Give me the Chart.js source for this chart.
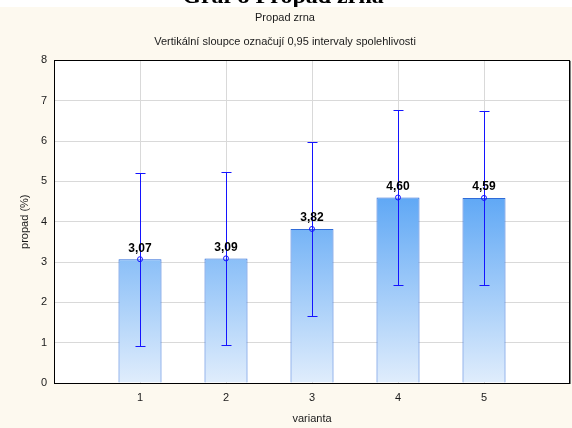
<!DOCTYPE html>
<html>
<head>
<meta charset="utf-8">
<script src="https://cdn.jsdelivr.net/npm/chart.js@4/dist/chart.umd.min.js"></script>
<style>
  html, body { margin: 0; padding: 0; background: #ffffff; }
  #wrap { width: 572px; height: 428px; position: relative; }
</style>
</head>
<body>
<div id="wrap"><canvas id="c" width="572" height="428"></canvas></div>
<script>
// ---- data ----
const categories = ['1', '2', '3', '4', '5'];
const means = [3.07, 3.09, 3.82, 4.60, 4.59];
const lowerCI = [0.92, 0.94, 1.66, 2.44, 2.43];
const upperCI = [5.22, 5.24, 5.98, 6.76, 6.75];
const yTicks = [0, 1, 2, 3, 4, 5, 6, 7, 8];
const pageTitle = 'Graf 8 Propad zrna';
const chartTitle = 'Propad zrna';
const chartSubtitle = 'Vertikální sloupce označují 0,95 intervaly spolehlivosti';
const xTitle = 'varianta';
const yTitle = 'propad (%)';

// category axis padded with empty slots on both sides
const labels = [''].concat(categories, ['']);
const padded = arr => [null].concat(arr, [null]);

const FONT = "'Liberation Sans', Arial, sans-serif";
const CREAM = '#fdf9ef';

const bgPlugin = {
  id: 'bg',
  beforeDraw(chart) {
    const ctx = chart.ctx;
    ctx.save();
    ctx.fillStyle = '#ffffff';
    ctx.fillRect(0, 0, chart.width, chart.height);
    ctx.fillStyle = CREAM;
    ctx.fillRect(0, 7, chart.width, chart.height - 7);
    const a = chart.chartArea;
    ctx.fillStyle = '#ffffff';
    ctx.fillRect(a.left, a.top, a.right - a.left, a.bottom - a.top);
    // cut-off page title
    ctx.fillStyle = '#000000';
    ctx.font = "bold 24px 'Liberation Serif', 'Times New Roman', serif";
    ctx.textAlign = 'center';
    ctx.textBaseline = 'alphabetic';
    ctx.save();
    ctx.beginPath();
    ctx.rect(0, 0, chart.width, 7);
    ctx.clip();
    ctx.fillText(pageTitle, 283, 3);
    ctx.restore();
    ctx.restore();
  }
};

const errPlugin = {
  id: 'err',
  beforeDatasetDraw(chart, args) {
    if (args.index !== 1) return;
    const ctx = chart.ctx;
    const xs = chart.scales.x, ys = chart.scales.y;
    ctx.save();
    ctx.strokeStyle = '#1414ff';
    ctx.lineWidth = 1;
    for (let i = 0; i < means.length; i++) {
      const x = Math.round(xs.getPixelForValue(i + 1)) + 0.5;
      const yl = Math.round(ys.getPixelForValue(lowerCI[i])) + 0.5;
      const yu = Math.round(ys.getPixelForValue(upperCI[i])) + 0.5;
      ctx.beginPath();
      ctx.moveTo(x, yl); ctx.lineTo(x, yu);
      ctx.moveTo(x - 5, yl); ctx.lineTo(x + 5, yl);
      ctx.moveTo(x - 5, yu); ctx.lineTo(x + 5, yu);
      ctx.stroke();
    }
    ctx.restore();
  },
  afterDatasetsDraw(chart) {
    const ctx = chart.ctx;
    const xs = chart.scales.x, ys = chart.scales.y;
    const a = chart.chartArea;
    ctx.save();
    // frame
    ctx.strokeStyle = '#000000';
    ctx.lineWidth = 1;
    ctx.strokeRect(Math.round(a.left) + 0.5, Math.round(a.top) + 0.5,
                   Math.round(a.right - a.left) - 1, Math.round(a.bottom - a.top));
    ctx.strokeStyle = '#808080';
    ctx.beginPath();
    ctx.moveTo(Math.round(a.right) + 0.5, Math.round(a.top) + 1);
    ctx.lineTo(Math.round(a.right) + 0.5, Math.round(a.bottom) + 1);
    ctx.stroke();
    // value labels
    ctx.fillStyle = '#000000';
    ctx.font = 'bold 12px ' + FONT;
    ctx.textAlign = 'center';
    ctx.textBaseline = 'middle';
    for (let i = 0; i < means.length; i++) {
      const x = xs.getPixelForValue(i + 1);
      const y = ys.getPixelForValue(means[i]);
      ctx.fillText(means[i].toFixed(2).replace('.', ','), x, y - 11);
    }
    ctx.restore();
  }
};

function barGradient(context) {
  const chart = context.chart;
  const a = chart.chartArea;
  if (!a) return '#8abff9';
  const g = chart.ctx.createLinearGradient(0, a.bottom, 0, a.top);
  g.addColorStop(0, '#e0edfc');
  g.addColorStop(1, '#0175f0');
  return g;
}

new Chart(document.getElementById('c'), {
  data: {
    labels: labels,
    datasets: [
      {
        type: 'bar',
        data: padded(means),
        backgroundColor: barGradient,
        borderColor: '#2f6bd8',
        borderWidth: 1,
        categoryPercentage: 1,
        barPercentage: 0.5,
        order: 2
      },
      {
        type: 'line',
        data: padded(means),
        showLine: false,
        pointStyle: 'circle',
        pointRadius: 2.5,
        pointHoverRadius: 2.5,
        pointBorderWidth: 1,
        pointBorderColor: '#1414ff',
        pointBackgroundColor: 'rgba(0,0,0,0)',
        order: 1
      }
    ]
  },
  options: {
    responsive: false,
    animation: false,
    events: [],
    layout: { autoPadding: false, padding: { top: 7, right: 2, left: 0, bottom: 0 } },
    plugins: {
      legend: { display: false },
      tooltip: { enabled: false },
      title: {
        display: true,
        text: chartTitle,
        color: '#1a1a1a',
        font: { family: FONT, size: 11, weight: 'normal' },
        padding: { top: 4, bottom: 11 }
      },
      subtitle: {
        display: true,
        text: chartSubtitle,
        color: '#1a1a1a',
        font: { family: FONT, size: 11, weight: 'normal' },
        padding: { top: 0, bottom: 12 }
      }
    },
    scales: {
      x: {
        type: 'category',
        offset: false,
        grid: { color: '#d9d9d9', drawTicks: false, offset: false },
        border: { color: '#000000', width: 1 },
        ticks: { color: '#1a1a1a', font: { family: FONT, size: 11 }, padding: 8, autoSkip: false, maxRotation: 0 },
        title: { display: true, text: xTitle, color: '#1a1a1a', font: { family: FONT, size: 11 }, padding: { top: 0, bottom: 2 } },
        afterFit(s) { s.height = 45; s.paddingRight = 0; s.paddingLeft = 0; }
      },
      y: {
        min: 0,
        max: 8,
        afterBuildTicks(s) { s.ticks = yTicks.map(v => ({ value: v })); },
        grid: { color: '#d9d9d9', drawTicks: false },
        border: { color: '#000000', width: 1 },
        ticks: { color: '#1a1a1a', font: { family: FONT, size: 11 }, padding: 7 },
        title: { display: true, text: yTitle, color: '#1a1a1a', font: { family: FONT, size: 11 }, padding: { top: 18, bottom: 0 } },
        afterFit(s) { s.width = 54; }
      }
    }
  },
  plugins: [bgPlugin, errPlugin]
});
</script>
</body>
</html>
